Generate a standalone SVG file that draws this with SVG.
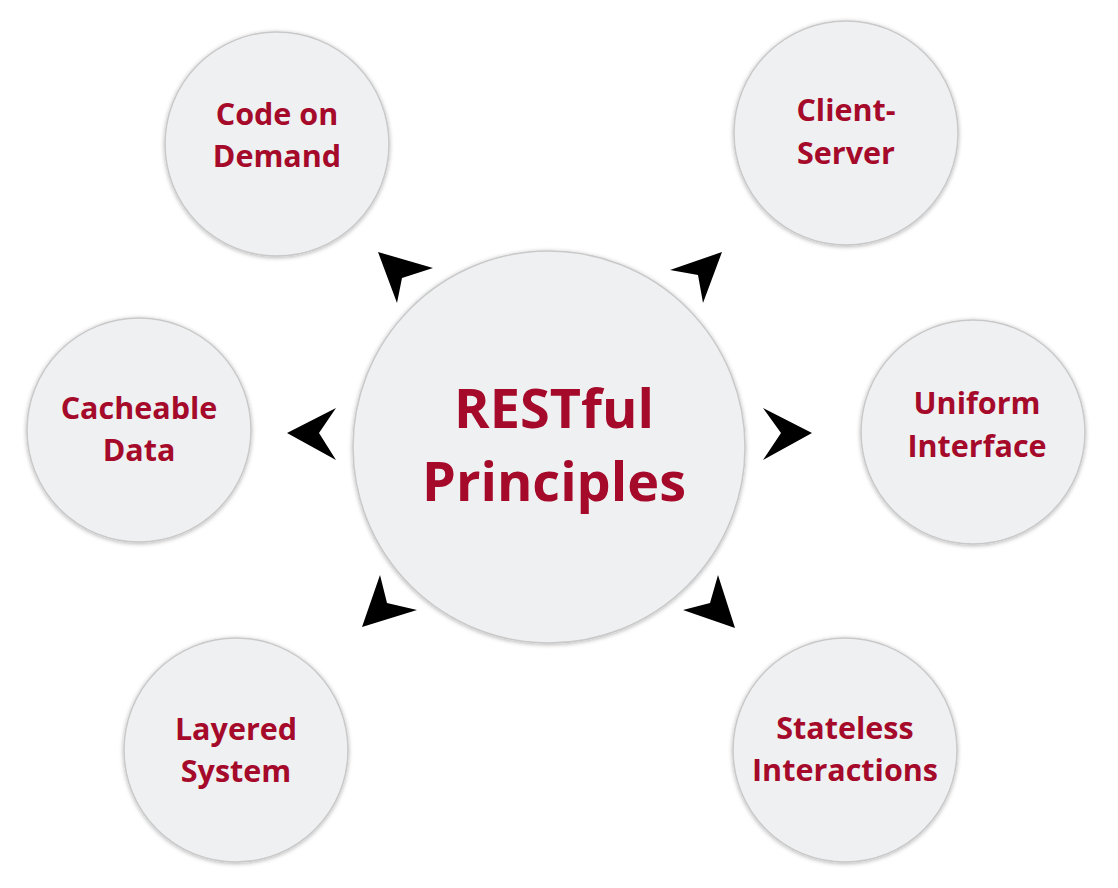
<svg xmlns="http://www.w3.org/2000/svg" width="1118" height="888" viewBox="0 0 1118 888">
<style>
.c{fill:#eff0f2;stroke:#c9c9c9;stroke-width:1.5;filter:url(#sh)}
.t{font-family:"Open Sans","Liberation Sans",sans-serif;font-weight:bold;fill:#a50a2a;text-anchor:middle}
.s{font-size:30.5px}
.b{font-size:54px}
.a{fill:#000}
</style>
<defs>
<filter id="sh" x="-20%" y="-20%" width="140%" height="140%">
<feDropShadow dx="0" dy="1" stdDeviation="2" flood-color="#000" flood-opacity="0.3"/>
</filter>
</defs>
<rect width="1118" height="888" fill="#fff"/>
<g id="connectors">
<polygon class="a" points="378,252 433,268 402,278 397,303"/>
<polygon class="a" points="722,252 703,303 698,275 670,270"/>
<polygon class="a" points="287,433 336,408 319,433 336,460"/>
<polygon class="a" points="812,433 763,408 781,433 763,460"/>
<polygon class="a" points="380,575 387,603 417,610 362,627"/>
<polygon class="a" points="718,575 735,628 683,610 710,603"/>
</g>
<g id="center">
<circle class="c" cx="549" cy="447" r="196"/>
<text class="t b" x="554" y="428">RESTful</text>
<text class="t b" x="554" y="501">Principles</text>
</g>
<g id="code-on-demand">
<circle class="c" cx="277" cy="144" r="112"/>
<text class="t s" x="277" y="125">Code on</text>
<text class="t s" x="277" y="167">Demand</text>
</g>
<g id="client-server">
<circle class="c" cx="846" cy="133" r="112"/>
<text class="t s" x="846" y="121">Client-</text>
<text class="t s" x="846" y="164">Server</text>
</g>
<g id="cacheable-data">
<circle class="c" cx="139" cy="430" r="112"/>
<text class="t s" x="139" y="419">Cacheable</text>
<text class="t s" x="139" y="461">Data</text>
</g>
<g id="uniform-interface">
<circle class="c" cx="973" cy="432" r="112"/>
<text class="t s" x="977" y="414">Uniform</text>
<text class="t s" x="977" y="457">Interface</text>
</g>
<g id="layered-system">
<circle class="c" cx="236" cy="750" r="112"/>
<text class="t s" x="236" y="740">Layered</text>
<text class="t s" x="236" y="782">System</text>
</g>
<g id="stateless-interactions">
<circle class="c" cx="845" cy="750" r="112"/>
<text class="t s" x="845" y="739">Stateless</text>
<text class="t s" x="845" y="781">Interactions</text>
</g>
</svg>
